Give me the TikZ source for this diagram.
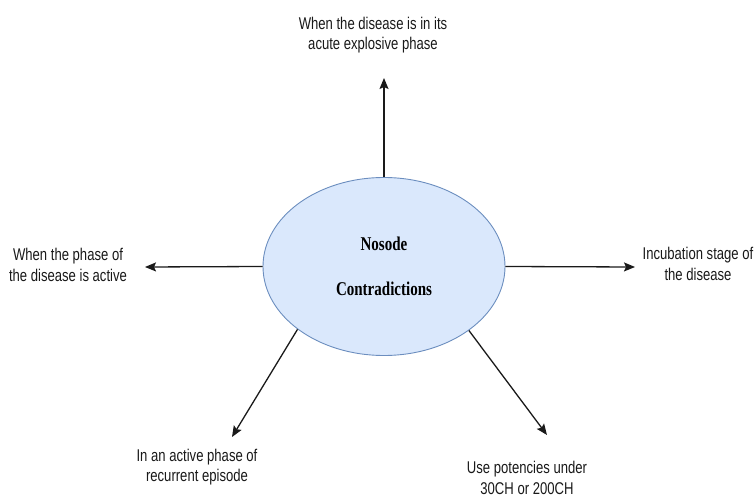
\documentclass[tikz,border=0pt]{standalone}
\usepackage{fontspec}
\usetikzlibrary{arrows.meta,shapes.geometric}
\newfontfamily\lblfont[FakeStretch=0.77]{Liberation Sans}
\newfontfamily\ttlfont[FakeStretch=0.77]{Liberation Serif}
\definecolor{ellfill}{HTML}{DAE8FC}
\definecolor{elldraw}{HTML}{6C8EBF}
\definecolor{linecol}{HTML}{1A1A1A}
\tikzset{
  hub/.style={ellipse, draw=elldraw, fill=ellfill, line width=0.9pt,
    minimum width=242pt, minimum height=178pt, inner sep=0pt, align=center,
    font=\ttlfont\bfseries\fontsize{19.5}{45}\selectfont},
  lbl/.style={align=center, inner sep=0pt, text=black!90,
    font=\lblfont\fontsize{17}{20.5}\selectfont},
  conn/.style={draw=linecol, line width=1.3pt, -{Stealth[length=11pt,width=9pt,inset=2pt]}}
}
\begin{document}
\begin{tikzpicture}[x=1pt,y=-1pt]
\useasboundingbox (0,0) rectangle (756,497);
\node[hub] (nos) at (384,266.5) {Nosode\\Contradictions};
\coordinate (tUp) at (384,78);
\coordinate (tLeft) at (145,267);
\coordinate (tRight) at (635,267);
\coordinate (tLL) at (232,437);
\coordinate (tLR) at (547,435);
\node[lbl] (lUp) at (373,35) {When the disease is in its\\acute explosive phase};
\node[lbl] (lLeft) at (68,265) {When the phase of\\the disease is active};
\node[lbl] (lRight) at (698,264) {Incubation stage of\\the disease};
\node[lbl] (lLL) at (197,467) {In an active phase of\\recurrent episode};
\node[lbl] (lLR) at (527,478) {Use potencies under\\30CH or 200CH};
\draw[conn] (nos.north) -- (tUp);
\draw[conn] (nos.west) -- (tLeft);
\draw[conn] (nos.east) -- (tRight);
\draw[conn] (nos.216.4) -- (tLL);
\draw[conn] (nos.323.6) -- (tLR);
\end{tikzpicture}
\end{document}
